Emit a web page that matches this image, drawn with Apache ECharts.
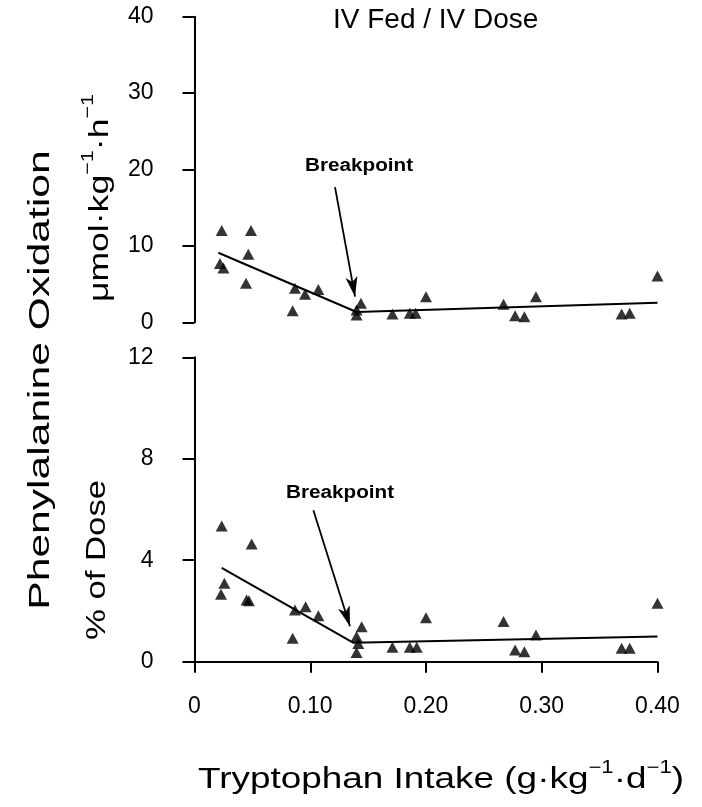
<!DOCTYPE html>
<html>
<head>
<meta charset="utf-8">
<script src="https://cdn.jsdelivr.net/npm/echarts@6/dist/echarts.min.js"></script>
<style>
  html, body { margin: 0; padding: 0; background: #fff; }
  #main { width: 702px; height: 807px; }
</style>
</head>
<body>
<div id="main"></div>
<script>
// tryptophan intake (g/kg/d) and oxidation
const topPoints = [
  [0.0235, 12.0], [0.0488, 12.0], [0.0465, 8.9], [0.022, 7.7], [0.025, 7.1],
  [0.0445, 5.1], [0.0868, 4.45], [0.0955, 3.66], [0.107, 4.3], [0.0848, 1.5],
  [0.1438, 2.5], [0.140, 1.6], [0.140, 0.95], [0.200, 3.35], [0.171, 1.09],
  [0.186, 1.18], [0.191, 1.18], [0.267, 2.36], [0.295, 3.35], [0.277, 0.86],
  [0.285, 0.73], [0.369, 1.09], [0.376, 1.18], [0.400, 6.06]
];
const topFit = [[0.0206, 9.1], [0.140, 1.35], [0.400, 2.55]];
const topArrow = [[0.1214, 17.7], [0.1387, 3.35]];

const bottomPoints = [
  [0.0235, 5.35], [0.0494, 4.64], [0.0258, 3.09], [0.0229, 2.66], [0.045, 2.43],
  [0.047, 2.40], [0.0868, 2.04], [0.096, 2.17], [0.107, 1.81], [0.0848, 0.92],
  [0.1444, 1.38], [0.140, 0.99], [0.1415, 0.72], [0.140, 0.36], [0.200, 1.73],
  [0.171, 0.57], [0.186, 0.57], [0.192, 0.57], [0.267, 1.58], [0.295, 1.05],
  [0.277, 0.46], [0.285, 0.39], [0.369, 0.53], [0.376, 0.53], [0.400, 2.30]
];
const bottomFit = [[0.0235, 3.7], [0.137, 0.75], [0.400, 0.99]];
const bottomArrow = [[0.1027, 5.97], [0.1343, 1.40]];

const chart = echarts.init(document.getElementById('main'), null, { renderer: 'canvas' });
const FONT = '"Liberation Sans", Arial, Helvetica, sans-serif';

function yAxisOf(grid, max, step) {
  return {
    type: 'value', gridIndex: grid, min: 0, max: max, interval: step,
    offset: 14,
    axisLine: { show: true, lineStyle: { color: '#000', width: 2 } },
    axisTick: { show: true, length: 12, lineStyle: { color: '#000', width: 2 } },
    axisLabel: { color: '#000', fontSize: 23, fontFamily: FONT, margin: 27 },
    splitLine: { show: false }
  };
}

function arrowLine(pts) {
  return {
    silent: true,
    symbol: ['none', 'arrow'],
    lineStyle: { color: '#000', width: 1.8, type: 'solid' },
    label: { show: false },
    data: [[
      { coord: pts[0], symbol: 'none' },
      { coord: pts[1], symbol: 'arrow', symbolSize: [9, 20] }
    ]]
  };
}

const markerStyle = { color: '#000' };

const option = {
  backgroundColor: '#ffffff',
  animation: false,
  grid: [
    { left: 194.5, right: 44.5, top: 16.7, height: 305.6 },
    { left: 194.5, right: 44.5, top: 357.3, height: 304.4 }
  ],
  xAxis: [
    { type: 'value', gridIndex: 0, min: 0, max: 0.4, show: false },
    {
      type: 'value', gridIndex: 1, min: 0, max: 0.4, interval: 0.1,
      offset: 9,
      axisLine: { show: true, lineStyle: { color: '#000', width: 2 } },
      axisTick: { show: true, length: 11, lineStyle: { color: '#000', width: 2 } },
      axisLabel: {
        color: '#000', fontSize: 23, fontFamily: FONT, margin: 24,
        formatter: function (v) { return v === 0 ? '0' : v.toFixed(2); }
      },
      splitLine: { show: false }
    }
  ],
  yAxis: [yAxisOf(0, 40, 10), yAxisOf(1, 12, 4)],
  series: [
    {
      type: 'scatter', xAxisIndex: 0, yAxisIndex: 0, data: topPoints,
      symbol: 'triangle', symbolSize: [12, 11], itemStyle: markerStyle
    },
    {
      type: 'line', xAxisIndex: 0, yAxisIndex: 0, data: topFit,
      symbol: 'none', lineStyle: { color: '#000', width: 2 },
      markLine: arrowLine(topArrow)
    },
    {
      type: 'scatter', xAxisIndex: 1, yAxisIndex: 1, data: bottomPoints,
      symbol: 'triangle', symbolSize: [12, 11], itemStyle: markerStyle
    },
    {
      type: 'line', xAxisIndex: 1, yAxisIndex: 1, data: bottomFit,
      symbol: 'none', lineStyle: { color: '#000', width: 2 },
      markLine: arrowLine(bottomArrow)
    }
  ],
  graphic: [
    {
      type: 'text', x: 333, y: 20,
      style: { text: 'IV Fed / IV Dose', font: '28px ' + FONT, fill: '#000', textVerticalAlign: 'middle' }
    },
    {
      type: 'text', x: 305, y: 166, scaleX: 1.15,
      style: { text: 'Breakpoint', font: 'bold 18px ' + FONT, fill: '#000', textVerticalAlign: 'middle' }
    },
    {
      type: 'text', x: 286, y: 493, scaleX: 1.15,
      style: { text: 'Breakpoint', font: 'bold 18px ' + FONT, fill: '#000', textVerticalAlign: 'middle' }
    },
    {
      type: 'text', x: 41, y: 380, rotation: Math.PI / 2, scaleX: 1.42,
      style: {
        text: 'Phenylalanine Oxidation', font: '30px ' + FONT, fill: '#000',
        textAlign: 'center', textVerticalAlign: 'middle'
      }
    },
    {
      type: 'text', x: 97, y: 198, rotation: Math.PI / 2, scaleX: 1.27,
      style: {
        text: '{m|μmol·kg}{s|−1}{m|·h}{s|−1}',
        textAlign: 'center', textVerticalAlign: 'middle', fill: '#000',
        rich: {
          m: { fontSize: 28, fontFamily: FONT, lineHeight: 34, verticalAlign: 'bottom' },
          s: { fontSize: 17, fontFamily: FONT, lineHeight: 20, verticalAlign: 'top' }
        }
      }
    },
    {
      type: 'text', x: 97, y: 560, rotation: Math.PI / 2, scaleX: 1.24,
      style: {
        text: '% of Dose', font: '28px ' + FONT, fill: '#000',
        textAlign: 'center', textVerticalAlign: 'middle'
      }
    },
    {
      type: 'text', x: 441, y: 777, scaleX: 1.23,
      style: {
        text: '{m|Tryptophan Intake (g·kg}{s|−1}{m|·d}{s|−1}{m|)}',
        textAlign: 'center', textVerticalAlign: 'middle', fill: '#000',
        rich: {
          m: { fontSize: 30, fontFamily: FONT, lineHeight: 36, verticalAlign: 'bottom' },
          s: { fontSize: 18, fontFamily: FONT, lineHeight: 20, verticalAlign: 'top' }
        }
      }
    }
  ]
};

chart.setOption(option);
</script>
</body>
</html>
